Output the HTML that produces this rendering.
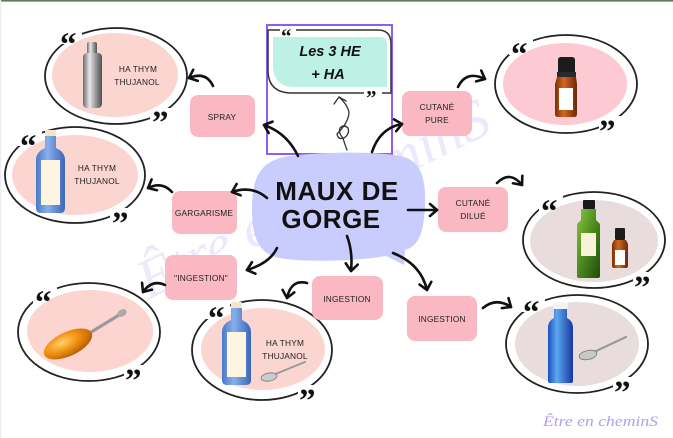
<!DOCTYPE html>
<html>
<head>
<meta charset="utf-8">
<style>
html,body{margin:0;padding:0;background:#fff;}
svg{display:block;}
.lbl{font-family:"Liberation Sans",sans-serif;font-size:8.3px;fill:#222;text-anchor:middle;letter-spacing:0.2px;}
.q{font-family:"Liberation Serif",serif;font-weight:bold;font-size:33px;fill:#111;}
.ring{fill:none;stroke:#222;stroke-width:1.8;}
.arr{fill:none;stroke:#111;stroke-width:2.6;stroke-linecap:round;marker-end:url(#ah);}
.box{fill:#f9b8c2;}
</style>
</head>
<body>
<svg width="673" height="438" viewBox="0 0 673 438" xmlns="http://www.w3.org/2000/svg">
<defs>
  <marker id="ah" markerUnits="userSpaceOnUse" viewBox="-10 -10 20 20" markerWidth="20" markerHeight="20" refX="0" refY="0" orient="auto" overflow="visible">
    <path d="M-7,-6 L0,0 L-7,6" fill="none" stroke="#111" stroke-width="2.6" stroke-linecap="round" stroke-linejoin="round"/>
  </marker>
  <linearGradient id="silver" x1="0" x2="1" y1="0" y2="0">
    <stop offset="0" stop-color="#6d6d6d"/><stop offset="0.35" stop-color="#e8e8e8"/><stop offset="0.6" stop-color="#a8a8a8"/><stop offset="1" stop-color="#505050"/>
  </linearGradient>
  <linearGradient id="lblue" x1="0" x2="1" y1="0" y2="0">
    <stop offset="0" stop-color="#4a78c8"/><stop offset="0.4" stop-color="#86b0ea"/><stop offset="1" stop-color="#3c66b8"/>
  </linearGradient>
  <linearGradient id="dblue" x1="0" x2="1" y1="0" y2="0">
    <stop offset="0" stop-color="#1a4fc0"/><stop offset="0.35" stop-color="#5aa8f0"/><stop offset="1" stop-color="#1838a0"/>
  </linearGradient>
  <linearGradient id="green" x1="0" x2="1" y1="0" y2="1">
    <stop offset="0" stop-color="#8ac640"/><stop offset="0.5" stop-color="#4a8a1c"/><stop offset="1" stop-color="#1e4a0c"/>
  </linearGradient>
  <linearGradient id="amber" x1="0" x2="1" y1="0" y2="0">
    <stop offset="0" stop-color="#7a3008"/><stop offset="0.4" stop-color="#d0681e"/><stop offset="1" stop-color="#6a2806"/>
  </linearGradient>
  <radialGradient id="honey" cx="0.4" cy="0.35" r="0.7">
    <stop offset="0" stop-color="#ffd070"/><stop offset="0.5" stop-color="#f09010"/><stop offset="1" stop-color="#b05a00"/>
  </radialGradient>
</defs>

<rect x="0" y="0" width="673" height="438" fill="#fff"/>
<rect x="0" y="0" width="673" height="1.6" fill="#5d7b5a"/>
<rect x="0" y="0" width="1.2" height="438" fill="#ececf2"/>

<!-- watermark big -->
<text x="0" y="0" transform="translate(148,300) rotate(-26)" font-family="Liberation Serif,serif" font-style="italic" font-size="56" fill="#c9b6f6" opacity="0.3" textLength="385" lengthAdjust="spacingAndGlyphs">Être en cheminS</text>

<!-- E1 spray -->
<ellipse class="ring" cx="116" cy="76" rx="71" ry="48"/>
<rect x="58" y="28" width="24" height="16" fill="#fff"/>
<rect x="150" y="108" width="24" height="16" fill="#fff"/>
<ellipse cx="115" cy="75" rx="63" ry="42" fill="#fbd5d0"/>
<text class="q" x="60" y="55">“</text>
<text class="q" x="152" y="133">”</text>
<rect x="87" y="42" width="10" height="13" rx="2" fill="url(#silver)"/>
<rect x="83" y="53" width="19" height="55" rx="4" fill="url(#silver)"/>
<text class="lbl" x="138" y="72">HA THYM</text>
<text class="lbl" x="137" y="85">THUJANOL</text>

<!-- E2 gargarisme -->
<ellipse class="ring" cx="75" cy="175" rx="70" ry="48"/>
<rect x="18" y="130" width="24" height="16" fill="#fff"/>
<rect x="110" y="208" width="24" height="16" fill="#fff"/>
<ellipse cx="75" cy="175" rx="63" ry="40" fill="#fbd5d0"/>
<text class="q" x="20" y="157">“</text>
<text class="q" x="112" y="234">”</text>
<rect x="45" y="130" width="11" height="6" rx="1" fill="#f3e6c8"/>
<path d="M45,136 L56,136 L56,148 Q65,152 65,160 L65,208 Q65,213 60,213 L41,213 Q36,213 36,208 L36,160 Q36,152 45,148 Z" fill="url(#lblue)"/>
<rect x="41" y="160" width="19" height="45" fill="#fdf5e2"/>
<text class="lbl" x="97" y="171">HA THYM</text>
<text class="lbl" x="97" y="184">THUJANOL</text>

<!-- E3 top right -->
<ellipse class="ring" cx="566" cy="84" rx="71" ry="49"/>
<rect x="509" y="39" width="24" height="16" fill="#fff"/>
<rect x="599" y="116" width="24" height="16" fill="#fff"/>
<ellipse cx="565" cy="84" rx="62" ry="41" fill="#fdc9d3"/>
<text class="q" x="511" y="65">“</text>
<text class="q" x="599" y="142">”</text>
<path d="M558,60 Q558,57 561,57 L572,57 Q575,57 575,60 L575,75 L558,75 Z" fill="#1c1c1c"/>
<rect x="557" y="72" width="19" height="5" fill="#2a2a2a"/>
<path d="M557,77 L576,77 L577,84 L577,114 Q577,117 574,117 L558,117 Q555,117 555,114 L555,84 Z" fill="url(#amber)"/>
<rect x="559" y="88" width="14" height="22" fill="#fff"/>

<!-- E4 right middle -->
<ellipse class="ring" cx="594" cy="240" rx="71" ry="48"/>
<rect x="539" y="195" width="24" height="16" fill="#fff"/>
<rect x="633" y="272" width="24" height="16" fill="#fff"/>
<ellipse cx="594" cy="241" rx="64" ry="41" fill="#e9dcdd"/>
<text class="q" x="541" y="222">“</text>
<text class="q" x="634" y="298">”</text>
<rect x="583" y="200" width="12" height="9" rx="1" fill="#1a1a1a"/>
<path d="M581,209 L596,209 L596,220 L600,224 L600,276 Q600,278 598,278 L579,278 Q577,278 577,276 L577,224 L581,220 Z" fill="url(#green)"/>
<rect x="581" y="233" width="15" height="23" fill="#f7f2d8"/>
<rect x="615" y="228" width="10" height="12" rx="1" fill="#1c1c1c"/>
<path d="M614,240 L626,240 L628,244 L628,266 Q628,268 626,268 L614,268 Q612,268 612,266 L612,244 Z" fill="url(#amber)"/>
<rect x="615" y="250" width="10" height="15" fill="#fff"/>

<!-- E5 bottom right -->
<ellipse class="ring" cx="577" cy="344" rx="71" ry="49"/>
<rect x="521" y="296" width="24" height="16" fill="#fff"/>
<rect x="613" y="377" width="24" height="16" fill="#fff"/>
<ellipse cx="577" cy="344" rx="62" ry="42" fill="#e9dcdd"/>
<text class="q" x="523" y="323">“</text>
<text class="q" x="614" y="403">”</text>
<rect x="553" y="302" width="15" height="7" rx="2" fill="#f4f4f4"/>
<path d="M554,309 L567,309 L567,318 Q573,321 573,328 L573,381 Q573,383 571,383 L550,383 Q548,383 548,381 L548,328 Q548,321 554,318 Z" fill="url(#dblue)"/>
<line x1="594" y1="352" x2="626" y2="337" stroke="#9a9a9a" stroke-width="2.2" stroke-linecap="round"/>
<ellipse cx="588" cy="355" rx="9" ry="4.5" fill="#c8c8c8" stroke="#777" stroke-width="0.8" transform="rotate(-12 588 355)"/>

<!-- E6 bottom left spoon -->
<ellipse class="ring" cx="89" cy="332" rx="71" ry="49"/>
<rect x="33" y="287" width="24" height="16" fill="#fff"/>
<rect x="124" y="365" width="24" height="16" fill="#fff"/>
<ellipse cx="90" cy="331" rx="63" ry="41" fill="#fcd4d0"/>
<text class="q" x="35" y="313">“</text>
<text class="q" x="125" y="391">”</text>
<line x1="88" y1="334" x2="124" y2="312" stroke="#999" stroke-width="3.2" stroke-linecap="round"/>
<ellipse cx="122" cy="313" rx="5" ry="3.5" fill="#aaa" transform="rotate(-30 122 313)"/>
<ellipse cx="68" cy="344" rx="26" ry="12" fill="url(#honey)" transform="rotate(-25 68 344)"/>

<!-- E7 bottom middle -->
<ellipse class="ring" cx="262" cy="350" rx="70" ry="50"/>
<rect x="206" y="303" width="24" height="16" fill="#fff"/>
<rect x="298" y="385" width="24" height="16" fill="#fff"/>
<ellipse cx="263" cy="349" rx="62" ry="41" fill="#fbd5d0"/>
<text class="q" x="208" y="329">“</text>
<text class="q" x="299" y="411">”</text>
<rect x="231" y="302" width="11" height="6" rx="1" fill="#f3e6c8"/>
<path d="M231,308 L242,308 L242,320 Q251,324 251,332 L251,380 Q251,385 246,385 L227,385 Q222,385 222,380 L222,332 Q222,324 231,320 Z" fill="url(#lblue)"/>
<rect x="227" y="332" width="19" height="45" fill="#fdf5e2"/>
<text class="lbl" x="285" y="346">HA THYM</text>
<text class="lbl" x="285" y="359">THUJANOL</text>
<line x1="273" y1="375" x2="305" y2="362" stroke="#9a9a9a" stroke-width="2" stroke-linecap="round"/>
<ellipse cx="269" cy="377" rx="8" ry="4" fill="#ccc" stroke="#777" stroke-width="0.8" transform="rotate(-10 269 377)"/>

<!-- Top center box -->
<rect x="267" y="25" width="125" height="129" fill="none" stroke="#8b5cf6" stroke-width="2"/>
<path d="M273,37 L380,37 Q387,37 387,45 L387,87 L295,87 Q273,87 273,65 Z" fill="#bef1e5"/>
<path d="M268,30 L378,30 Q391,30 391,44 L391,93 L292,93 Q268,93 268,70 Z" fill="none" stroke="#333" stroke-width="1.5"/>
<rect x="280" y="26" width="16" height="8" fill="#fff"/>
<rect x="364" y="89" width="18" height="8" fill="#fff"/>
<text x="281" y="43" font-family="Liberation Serif,serif" font-weight="bold" font-size="21" fill="#111">“</text>
<text x="366" y="105" font-family="Liberation Serif,serif" font-weight="bold" font-size="21" fill="#111">”</text>
<text x="330" y="56" text-anchor="middle" font-family="Liberation Sans,sans-serif" font-weight="bold" font-style="italic" font-size="14.5" fill="#111">Les 3 HE</text>
<text x="328" y="79" text-anchor="middle" font-family="Liberation Sans,sans-serif" font-weight="bold" font-style="italic" font-size="14.5" fill="#111">+ HA</text>
<path d="M347,150 Q344,142 343,138 Q338,133 340,128 Q344,124 348,128 Q350,134 344,138 Q338,140 337,134 Q349,122 349,112 Q347,104 339,97" fill="none" stroke="#333" stroke-width="1.3" stroke-linecap="round"/>
<path d="M334,104 L339,97 L346,101" fill="none" stroke="#333" stroke-width="1.3" stroke-linecap="round"/>

<!-- Central bubble -->
<path d="M290,156 C330,151 380,152 400,156 C422,160 426,180 425,205 C424,230 420,246 405,250 L404,265 L386,256 C350,262 300,262 280,258 C256,254 252,232 252,210 C252,180 258,160 290,156 Z" fill="#c9cdfd"/>
<text x="337" y="200" text-anchor="middle" font-family="Liberation Sans,sans-serif" font-weight="bold" font-size="26" fill="#111" letter-spacing="0.5">MAUX DE</text>
<text x="331" y="228" text-anchor="middle" font-family="Liberation Sans,sans-serif" font-weight="bold" font-size="26" fill="#111" letter-spacing="0.5">GORGE</text>

<!-- Boxes -->
<rect class="box" x="190" y="95" width="65" height="42" rx="8"/>
<text class="lbl" x="222" y="120">SPRAY</text>
<rect class="box" x="172" y="191" width="65" height="43" rx="8"/>
<text class="lbl" x="204" y="216">GARGARISME</text>
<rect class="box" x="402" y="91" width="70" height="45" rx="8"/>
<text class="lbl" x="437" y="110">CUTANÉ</text>
<text class="lbl" x="437" y="123">PURE</text>
<rect class="box" x="438" y="187" width="70" height="45" rx="8"/>
<text class="lbl" x="473" y="206">CUTANÉ</text>
<text class="lbl" x="473" y="219">DILUÉ</text>
<rect class="box" x="407" y="296" width="70" height="45" rx="8"/>
<text class="lbl" x="442" y="322">INGESTION</text>
<rect class="box" x="312" y="276" width="71" height="44" rx="8"/>
<text class="lbl" x="347" y="302">INGESTION</text>
<rect class="box" x="165" y="255" width="72" height="45" rx="8"/>
<text class="lbl" x="201" y="281">"INGESTION"</text>

<!-- Arrows -->
<path class="arr" d="M213,86 Q206,71 189,78"/>
<path class="arr" d="M172,192 Q162,181 148,188"/>
<path class="arr" d="M267,198 Q252,185 232,192"/>
<path class="arr" d="M298,156 Q287,133 264,125"/>
<path class="arr" d="M372,152 Q380,128 402,124"/>
<path class="arr" d="M458,87 Q466,70 485,79"/>
<path class="arr" d="M408,210 L437,210"/>
<path class="arr" d="M497,183 Q510,170 522,185"/>
<path class="arr" d="M393,253 Q421,264 427,290"/>
<path class="arr" d="M483,308 Q496,297 511,307"/>
<path class="arr" d="M347,236 Q353,252 351,271"/>
<path class="arr" d="M307,283 Q291,279 287,298"/>
<path class="arr" d="M277,248 Q270,263 247,270"/>
<path class="arr" d="M165,285 Q152,279 143,292"/>

<text x="543" y="426" font-family="Liberation Serif,serif" font-style="italic" font-size="15" fill="#b49cf2" textLength="115" lengthAdjust="spacingAndGlyphs">Être en cheminS</text>
</svg>
</body>
</html>
